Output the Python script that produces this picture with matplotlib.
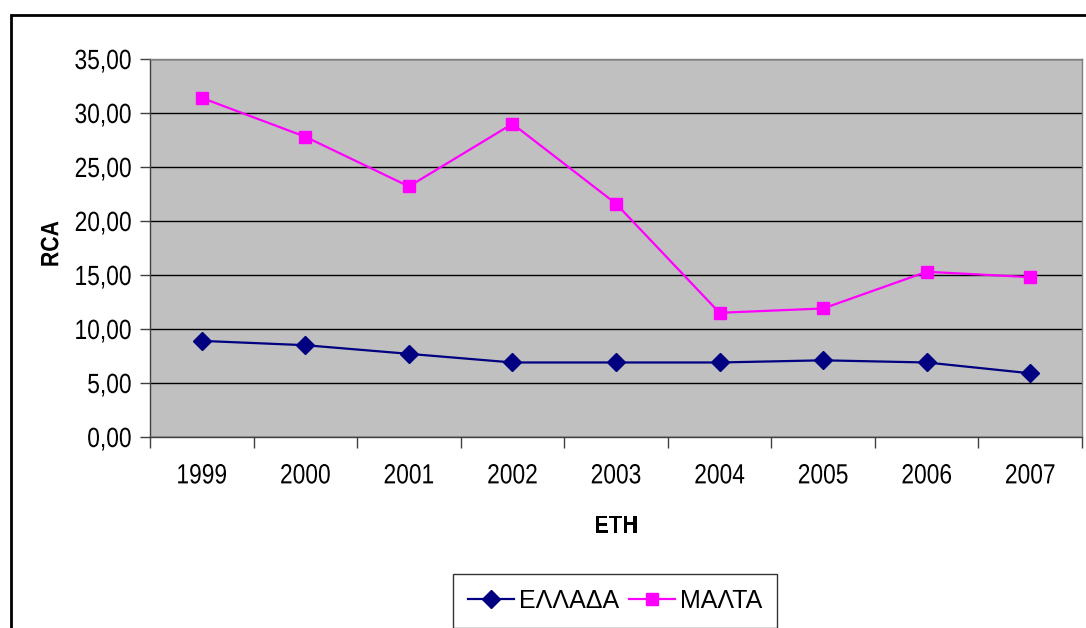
import matplotlib
matplotlib.use("Agg")
from matplotlib import pyplot as plt
from matplotlib.patches import Rectangle
from matplotlib.patheffects import AbstractPathEffect
from matplotlib.transforms import Affine2D
from matplotlib.ticker import FuncFormatter

# Data
years = ['1999', '2000', '2001', '2002', '2003', '2004', '2005', '2006', '2007']
greece = [8.9, 8.5, 7.7, 6.9, 6.9, 6.9, 7.1, 6.9, 5.9]
malta = [31.4, 27.8, 23.2, 29.0, 21.6, 11.5, 11.9, 15.3, 14.8]
y_ticks = [0, 5, 10, 15, 20, 25, 30, 35]


class Squeeze(AbstractPathEffect):
    """Narrow the text horizontally (the original chart was stretched)."""

    def __init__(self, sx=0.82, anchor='center'):
        super().__init__()
        self.sx = sx
        self.anchor = anchor

    def draw_path(self, renderer, gc, tpath, affine, rgbFace=None):
        ext = tpath.get_extents()
        if self.anchor == 'right':
            cx = ext.x1
        elif self.anchor == 'left':
            cx = ext.x0
        else:
            cx = (ext.x0 + ext.x1) / 2
        squeeze = Affine2D().translate(-cx, 0).scale(self.sx, 1).translate(cx, 0)
        renderer.draw_path(gc, tpath, squeeze + affine, rgbFace)


plt.rcParams['font.family'] = ['Liberation Sans', 'DejaVu Sans']

W, H = 1086, 628
fig = plt.figure(figsize=(W / 100, H / 100), dpi=100)

# plot area in pixel coords
left, right, top, bottom = 150, 1082, 59, 437
ax = fig.add_axes([left / W, 1 - bottom / H, (right - left) / W, (bottom - top) / H])
ax.set_facecolor('#C0C0C0')

x = list(range(len(years)))
ax.plot(x, greece, color='#000080', lw=1.6, marker='D', markersize=9,
        label='ΕΛΛΑΔΑ', zorder=3)
ax.plot(x, malta, color='#FF00FF', lw=1.6, marker='s', markersize=8.5,
        label='ΜΑΛΤΑ', zorder=3)

ax.set_xlim(-0.5, len(years) - 0.5)
ax.set_ylim(0, 35)
ax.set_yticks(y_ticks)
ax.yaxis.set_major_formatter(FuncFormatter(lambda v, p: f'{v:.2f}'.replace('.', ',')))
ax.grid(axis='y', color='black', lw=1.0)
ax.set_axisbelow(True)

# x ticks between categories, labels centred on categories
ax.set_xticks([i - 0.5 for i in range(len(years) + 1)])
ax.set_xticklabels([])
ax.set_xticks(x, minor=True)
ax.set_xticklabels(years, minor=True, fontsize=20)
ax.tick_params(axis='x', which='minor', length=0, pad=19)
ax.tick_params(axis='x', which='major', length=8, width=1, color='#404040')
ax.tick_params(axis='y', length=7, width=1, color='#404040', labelsize=20, pad=6)

for lab in ax.get_yticklabels():
    lab.set_path_effects([Squeeze(0.82, 'right')])
for lab in ax.get_xticklabels(minor=True):
    lab.set_path_effects([Squeeze(0.82, 'center')])

for side in ['top', 'right']:
    ax.spines[side].set_color('#808080')
    ax.spines[side].set_linewidth(1.0)
for side in ['left', 'bottom']:
    ax.spines[side].set_color('#404040')
    ax.spines[side].set_linewidth(1.0)

ax.set_ylabel('RCA', fontsize=18, fontweight='bold', va='center',
              path_effects=[Squeeze(0.85, 'center')])
ax.yaxis.set_label_coords(-0.106, 0.51)
ax.set_xlabel('ΕΤΗ', fontsize=18, fontweight='bold', va='center',
              path_effects=[Squeeze(0.88, 'center')])
ax.xaxis.set_label_coords(0.5, -0.235)

leg = fig.legend(loc='center', bbox_to_anchor=(615 / W, 1 - 601 / H), ncol=2,
                 fontsize=18, frameon=True, fancybox=False, handlelength=1.85,
                 columnspacing=0.4, handletextpad=0.2, borderpad=0.6)
leg.get_frame().set_edgecolor('black')
leg.get_frame().set_linewidth(1.0)

# outer chart border (runs past right and bottom edges)
fig.patches.append(Rectangle((10.5 / W, -0.05), 1.1, 1 - 14.5 / H + 0.05,
                             transform=fig.transFigure, fill=False,
                             edgecolor='black', lw=2.0))

plt.savefig('out.png', dpi=100)
